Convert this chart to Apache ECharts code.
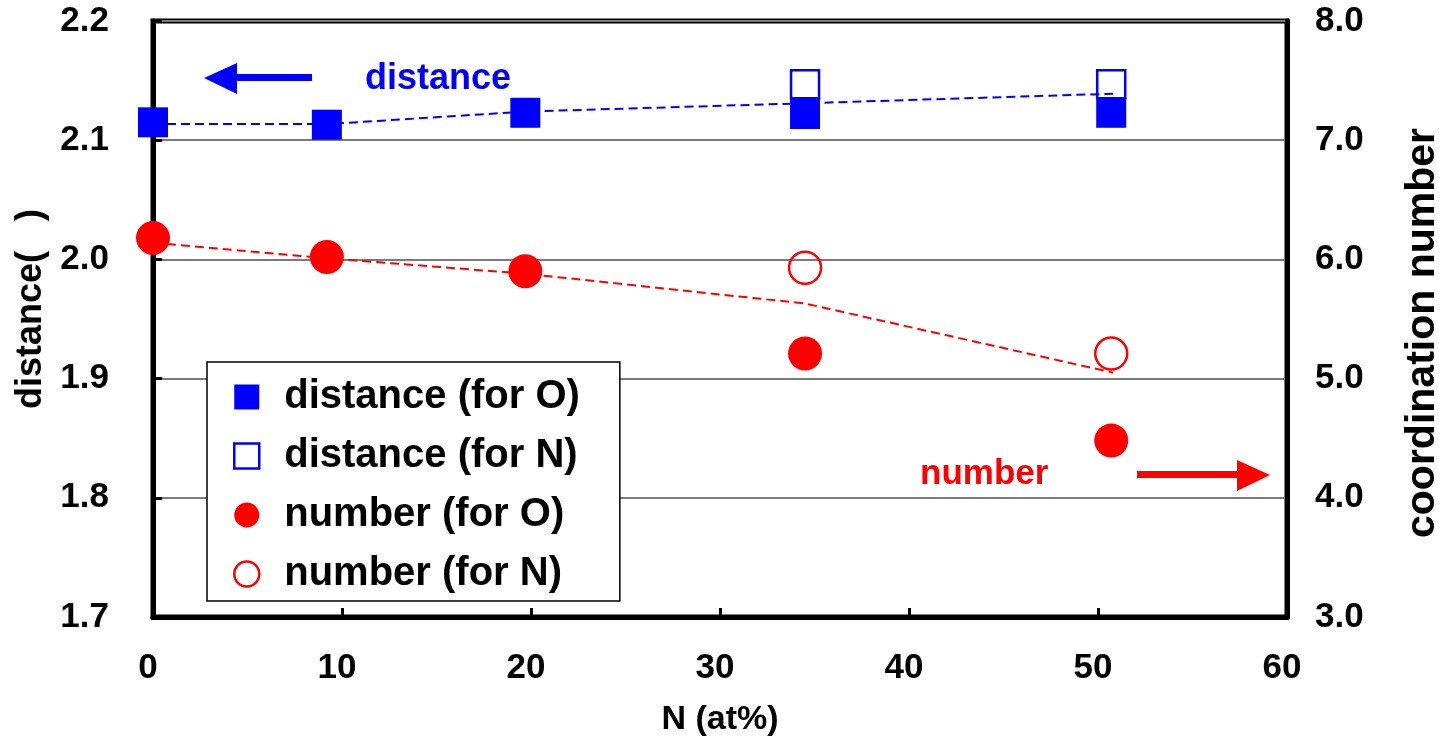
<html lang="en">
  <head>
    <meta charset="UTF-8" />
    <title>distance / coordination number</title>
    <style>
      html, body { margin: 0; padding: 0; overflow: hidden; }
    </style>
  </head>
  <body>
    <div id="main" style="width: 1439px; height: 737px"></div>

    <script src="https://cdn.jsdelivr.net/npm/echarts@6/dist/echarts.min.js"></script>
    <script>
      // N content (at%)
      const nAt = [0, 9.2, 19.7, 34.5, 50.7]
      const nAtN = [34.5, 50.7]
      const trendX = [0, 9.2, 19.7, 34.5, 50.8]

      // left axis: distance
      const distO = [2.115, 2.113, 2.123, 2.122, 2.123]
      const distN = [2.147, 2.147]
      const distTrend = [2.1135, 2.1135, 2.124, 2.131, 2.139]

      // right axis: coordination number
      const numO = [6.18, 6.02, 5.9, 5.21, 4.48]
      const numN = [5.93, 5.21]
      const numTrend = [6.14, 6.01, 5.88, 5.63, 5.05]

      const xTicks = [0, 10, 20, 30, 40, 50, 60]

      const BLUE = '#0000ff'
      const RED = '#ff0000'
      const FONT = 'Liberation Sans'
      const pair = (xs, ys) => xs.map((x, i) => [x, ys[i]])

      const labelFont = { fontFamily: FONT, fontWeight: 'bold', fontSize: 35, color: '#000' }

      let option = {
        animation: false,
        grid: {
          left: 153,
          right: 152,
          top: 21,
          bottom: 120,
          outerBoundsMode: 'none',
          show: true,
          borderColor: '#000',
          borderWidth: 5
        },
        xAxis: {
          type: 'value',
          min: xTicks[0],
          max: xTicks[xTicks.length - 1],
          interval: 10,
          name: 'N (at%)',
          nameLocation: 'middle',
          nameGap: 86,
          nameTextStyle: { fontFamily: FONT, fontWeight: 'bold', fontSize: 34, color: '#000' },
          axisLine: { lineStyle: { color: '#000', width: 5 } },
          axisTick: { inside: true, length: 9, lineStyle: { color: '#000', width: 3 } },
          axisLabel: Object.assign({ margin: 34, padding: [0, 10, 0, 0] }, labelFont),
          splitLine: { show: false }
        },
        yAxis: [
          {
            type: 'value',
            min: 1.7,
            max: 2.2,
            interval: 0.1,
            name: 'distance(   )',
            nameLocation: 'middle',
            nameRotate: 90,
            nameGap: 104,
            nameTextStyle: { fontFamily: FONT, fontWeight: 'bold', fontSize: 36, color: '#000', padding: [0, 0, 0, 20] },
            axisLine: { show: true, lineStyle: { color: '#000', width: 5 } },
            axisTick: { inside: true, length: 9, lineStyle: { color: '#000', width: 3 } },
            axisLabel: Object.assign({ margin: 44, formatter: v => v.toFixed(1) }, labelFont),
            splitLine: { lineStyle: { color: '#7a7a7a', width: 2 } }
          },
          {
            type: 'value',
            min: 3,
            max: 8,
            interval: 1,
            name: 'coordination number',
            nameLocation: 'middle',
            nameRotate: 90,
            nameGap: 115,
            nameTextStyle: { fontFamily: FONT, fontWeight: 'bold', fontSize: 41, color: '#000', padding: [0, 28, 0, 0] },
            axisLine: { show: true, lineStyle: { color: '#000', width: 5 } },
            axisTick: { show: false },
            axisLabel: Object.assign({ margin: 28, formatter: v => v.toFixed(1) }, labelFont),
            splitLine: { show: false }
          }
        ],
        legend: {
          orient: 'vertical',
          left: 207,
          top: 362,
          padding: [15, 40, 7, 26],
          itemGap: 19,
          itemWidth: 25,
          itemHeight: 25,
          backgroundColor: '#fff',
          borderColor: '#000',
          borderWidth: 1.5,
          borderRadius: 0,
          selectedMode: false,
          textStyle: {
            fontFamily: FONT,
            fontWeight: 'bold',
            fontSize: 40,
            lineHeight: 40,
            color: '#000',
            padding: [0, 0, 0, 20]
          },
          data: [
            { name: 'distance (for O)', icon: 'rect', itemStyle: { color: BLUE } },
            { name: 'distance (for N)', icon: 'rect', itemStyle: { color: '#fff', borderColor: BLUE, borderWidth: 2.5 } },
            { name: 'number (for O)', icon: 'circle', itemStyle: { color: RED } },
            { name: 'number (for N)', icon: 'circle', itemStyle: { color: '#fff', borderColor: RED, borderWidth: 2.5 } }
          ]
        },
        series: [
          {
            name: 'distance trend',
            type: 'line',
            yAxisIndex: 0,
            data: pair(trendX, distTrend),
            symbol: 'none',
            lineStyle: { color: BLUE, width: 2, type: [9, 5] },
            silent: true
          },
          {
            name: 'number trend',
            type: 'line',
            yAxisIndex: 1,
            data: pair(trendX, numTrend),
            symbol: 'none',
            lineStyle: { color: RED, width: 2, type: [9, 5] },
            silent: true
          },
          {
            name: 'distance (for O)',
            type: 'scatter',
            yAxisIndex: 0,
            data: pair(nAt, distO),
            symbol: 'rect',
            symbolSize: 30,
            itemStyle: { color: BLUE, opacity: 1 }
          },
          {
            name: 'distance (for N)',
            type: 'scatter',
            yAxisIndex: 0,
            data: pair(nAtN, distN),
            symbol: 'rect',
            symbolSize: 28,
            itemStyle: { color: 'rgba(0,0,0,0)', borderColor: BLUE, borderWidth: 2.5, opacity: 1 }
          },
          {
            name: 'number (for O)',
            type: 'scatter',
            yAxisIndex: 1,
            data: pair(nAt, numO),
            symbol: 'circle',
            symbolSize: 34,
            itemStyle: { color: RED, opacity: 1 }
          },
          {
            name: 'number (for N)',
            type: 'scatter',
            yAxisIndex: 1,
            data: pair(nAtN, numN),
            symbol: 'circle',
            symbolSize: 32,
            itemStyle: { color: 'rgba(0,0,0,0)', borderColor: RED, borderWidth: 2.5, opacity: 1 }
          }
        ],
        // arrows and labels pointing at each axis
        graphic: [
          {
            type: 'polygon',
            shape: { points: [[204, 78], [237, 63], [237, 74], [312, 74], [312, 81], [237, 81], [237, 94]] },
            style: { fill: BLUE }
          },
          {
            type: 'text',
            left: 365,
            top: 61,
            style: { text: 'distance', fill: BLUE, font: 'bold 36px "Liberation Sans"' }
          },
          {
            type: 'polygon',
            shape: { points: [[1137, 471], [1237, 471], [1237, 460], [1270, 475], [1237, 491], [1237, 478], [1137, 478]] },
            style: { fill: RED }
          },
          {
            type: 'text',
            left: 920,
            top: 457,
            style: { text: 'number', fill: RED, font: 'bold 35px "Liberation Sans"' }
          }
        ]
      }
      echarts.init(document.querySelector('#main')).setOption(option)
    </script>
  </body>
</html>
